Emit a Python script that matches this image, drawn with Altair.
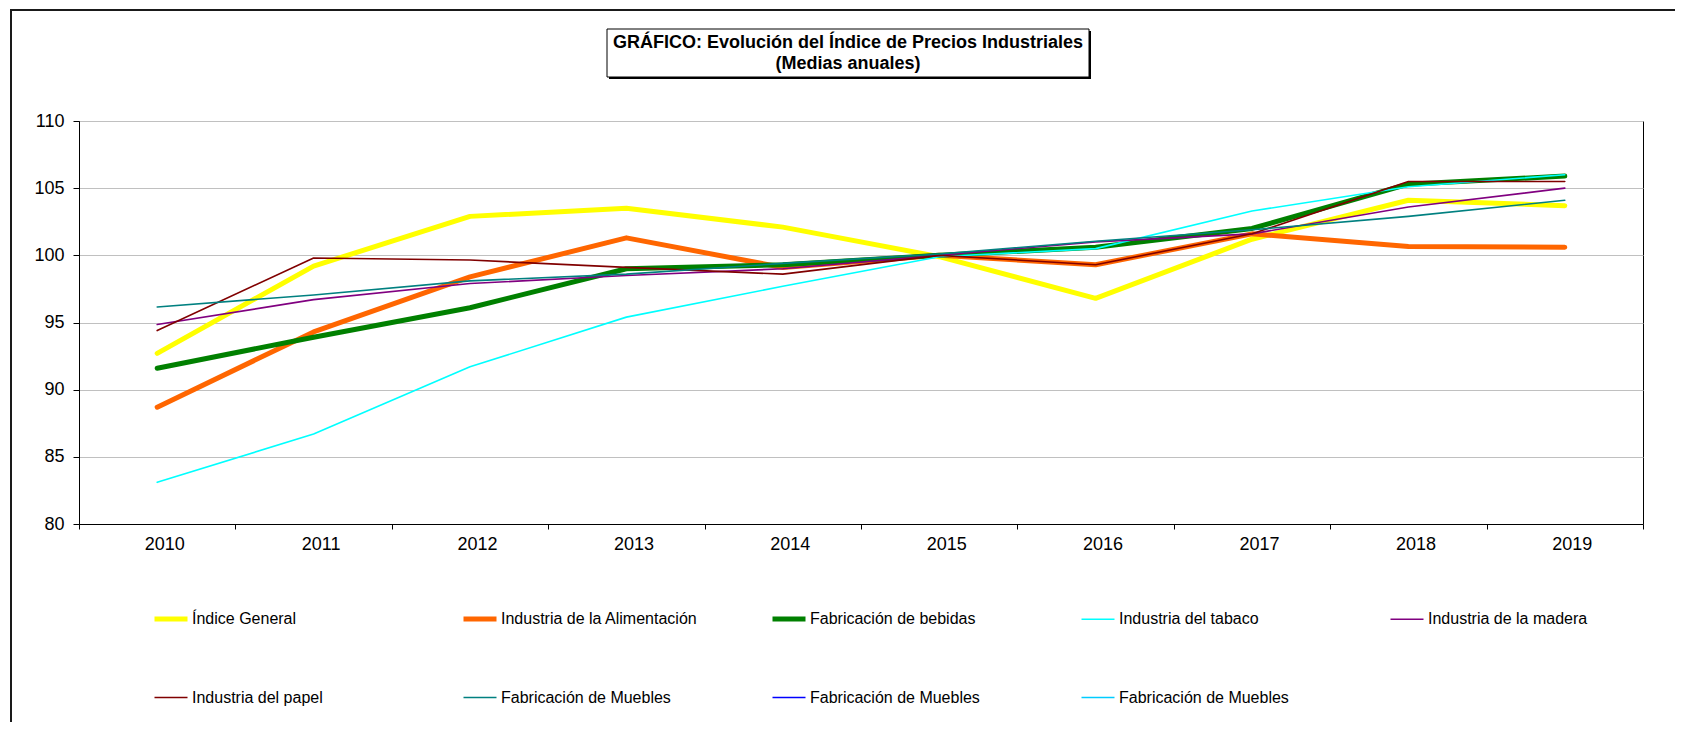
import altair as alt
import pandas as pd

years = ["2010", "2011", "2012", "2013", "2014", "2015", "2016", "2017", "2018", "2019"]

series = [
    "Índice General",
    "Industria de la Alimentación",
    "Fabricación de bebidas",
    "Industria del tabaco",
    "Industria de la madera",
    "Industria del papel",
    "Fabricación de Muebles",
    "Fabricación de Muebles\u200b",
    "Fabricación de Muebles\u200b\u200b",
]
colors = ["#FFFF00", "#FF6600", "#008000", "#00FFFF", "#800080",
          "#800000", "#008080", "#0000FF", "#00CCFF"]
widths = [5, 5, 5, 1.6, 1.6, 1.6, 1.6, 1.6, 1.6]

indice_general = [92.7, 99.2, 102.9, 103.5, 102.1, 99.9, 96.8, 101.2, 104.1, 103.7]
alimentacion = [88.7, 94.3, 98.4, 101.3, 99.1, 100.0, 99.3, 101.6, 100.65, 100.6]
bebidas = [91.6, 93.9, 96.1, 99.0, 99.3, 100.0, 100.6, 102.0, 105.3, 105.9]
tabaco = [83.1, 86.7, 91.7, 95.4, 97.7, 99.9, 100.5, 103.3, 105.1, 106.0]
madera = [94.85, 96.7, 97.9, 98.5, 99.0, 100.0, 101.0, 101.6, 103.6, 105.0]
papel = [94.4, 99.8, 99.65, 99.1, 98.6, 100.0, 99.3, 101.6, 105.5, 105.5]
muebles = [96.15, 97.05, 98.1, 98.6, 99.4, 100.1, 101.05, 101.9, 102.9, 104.1]

title_lines = ["GRÁFICO: Evolución del Índice de Precios Industriales", "(Medias anuales)"]
y_ticks = [80, 85, 90, 95, 100, 105, 110]

values_by_series = [indice_general, alimentacion, bebidas, tabaco, madera, papel, muebles]
rows = []
for name, vals in zip(series, values_by_series):
    for yr, v in zip(years, vals):
        rows.append({"year": yr, "serie": name, "valor": v})
df = pd.DataFrame(rows)

FONT = "Liberation Sans"

leg = alt.Legend(
    title=None, orient="none", legendX=73, legendY=479, columns=5,
    direction="horizontal", gridAlign="all", columnPadding=64, rowPadding=51,
    symbolType="stroke", symbolSize=1089, labelOffset=2, labelLimit=400,
    labelFontSize=16, labelFont=FONT, labelColor="#000", padding=0,
)

lines = alt.Chart(df).mark_line(strokeCap="round", strokeJoin="round").encode(
    x=alt.X("year:O", bandPosition=0.5,
            scale=alt.Scale(type="band", paddingInner=0, paddingOuter=0, domain=years),
            axis=alt.Axis(title=None, tickBand="extent", labelOffset=7, tickSize=5,
                          labelPadding=6, labelFontSize=18, labelAngle=0, grid=False)),
    y=alt.Y("valor:Q", scale=alt.Scale(domain=[80, 110], nice=False, zero=False),
            axis=alt.Axis(title=None, values=y_ticks, tickSize=6, labelPadding=9,
                          labelFontSize=18, grid=True, gridColor="#C0C0C0")),
    color=alt.Color("serie:N", scale=alt.Scale(domain=series, range=colors), legend=leg),
    strokeWidth=alt.StrokeWidth("serie:N",
                                scale=alt.Scale(type="ordinal", domain=series, range=widths),
                                legend=leg),
)

one = pd.DataFrame({"k": [0]})

frame = alt.Chart(one).mark_rect(fill=None, stroke="#1a1a1a", strokeWidth=2).encode(
    x=alt.value(-68), x2=alt.value(2000), y=alt.value(-111), y2=alt.value(1000)
)

box_shadow = alt.Chart(one).mark_rect(fill="#000").encode(
    x=alt.value(530), x2=alt.value(1012), y=alt.value(-90), y2=alt.value(-42)
)
box = alt.Chart(one).mark_rect(fill="#fff", stroke="#000", strokeWidth=1).encode(
    x=alt.value(528), x2=alt.value(1010), y=alt.value(-92), y2=alt.value(-44)
)

title_df = pd.DataFrame({"t": title_lines, "i": [0, 1]})
title1 = alt.Chart(title_df.iloc[[0]]).mark_text(
    font=FONT, fontSize=18, fontWeight="bold", color="#000", align="center", baseline="middle"
).encode(text="t:N", x=alt.value(769), y=alt.value(-78))
title2 = alt.Chart(title_df.iloc[[1]]).mark_text(
    font=FONT, fontSize=18, fontWeight="bold", color="#000", align="center", baseline="middle"
).encode(text="t:N", x=alt.value(769), y=alt.value(-57))

chart = alt.layer(frame, box_shadow, box, title1, title2, lines).properties(
    width=1564, height=403,
    padding={"left": 71, "top": 113, "right": 32, "bottom": 198},
    autosize=alt.AutoSizeParams(type="none"),
    background="#ffffff",
).configure(font=FONT).configure_view(
    stroke="#000", strokeWidth=1
).configure_axis(
    domainColor="#000", tickColor="#000", labelColor="#000", labelFont=FONT,
    domainWidth=1, tickWidth=1,
)

chart.save("out.html", embed_options={"renderer": "svg", "actions": False})
